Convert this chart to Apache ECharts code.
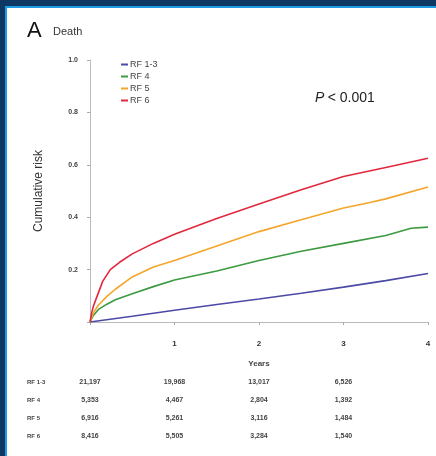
<!DOCTYPE html>
<html>
<head>
<meta charset="utf-8">
<script src="https://cdn.jsdelivr.net/npm/echarts@6/dist/echarts.min.js"></script>
<style>
  html, body { margin: 0; padding: 0; background: #fff; }
  #chart { width: 436px; height: 456px; }
</style>
</head>
<body>
<div id="chart"></div>
<script>
// cumulative risk curves, [years, risk]
var rf13 = [[0,0],[0.5,0.022],[1,0.045],[1.5,0.067],[2,0.088],[2.5,0.11],[3,0.133],[3.5,0.158],[4,0.185]];
var rf4 = [[0,0],[0.04,0.025],[0.1,0.048],[0.2,0.068],[0.3,0.085],[0.5,0.108],[0.75,0.135],[1,0.16],[1.5,0.195],[2,0.235],[2.5,0.27],[3,0.3],[3.5,0.33],[3.8,0.358],[4,0.362]];
var rf5 = [[0,0],[0.04,0.035],[0.1,0.065],[0.2,0.098],[0.3,0.125],[0.5,0.172],[0.75,0.21],[1,0.235],[1.5,0.29],[2,0.345],[2.5,0.39],[3,0.435],[3.3,0.455],[3.5,0.47],[4,0.515]];
var rf6 = [[0,0],[0.02,0.035],[0.04,0.06],[0.08,0.095],[0.15,0.155],[0.24,0.2],[0.35,0.228],[0.5,0.26],[0.75,0.3],[1,0.335],[1.5,0.395],[2,0.45],[2.5,0.505],[3,0.555],[3.5,0.59],[4,0.625]];

var seriesNames = ['RF 1-3', 'RF 4', 'RF 5', 'RF 6'];
var colors = ['#4b4aa6', '#3c9a40', '#f5a52a', '#e2283d'];

// number at risk table
var riskYears = [0, 1, 2, 3];
var atRisk = [
  ['21,197', '19,968', '13,017', '6,526'],
  ['5,353', '4,467', '2,804', '1,392'],
  ['6,916', '5,261', '3,116', '1,484'],
  ['8,416', '5,505', '3,284', '1,540']
];

var font = 'Liberation Sans, Arial, sans-serif';
var chart = echarts.init(document.getElementById('chart'));

var option = {
  animation: false,
  textStyle: { fontFamily: font },
  grid: { left: 90, right: 8, top: 60, bottom: 134 },
  legend: {
    orient: 'vertical',
    left: 116,
    top: 55,
    itemWidth: 7,
    itemHeight: 2,
    itemGap: 3,
    icon: 'rect',
    textStyle: { fontSize: 9, color: '#444', padding: [0, 0, 0, -3] },
    data: seriesNames
  },
  xAxis: {
    type: 'value',
    min: 0, max: 4, interval: 1,
    name: 'Years',
    nameLocation: 'middle',
    nameGap: 38,
    nameTextStyle: { fontSize: 8, fontWeight: 'bold', color: '#444' },
    axisLine: { lineStyle: { color: '#bbb', width: 1 } },
    axisTick: { length: 3, lineStyle: { color: '#aaa' } },
    splitLine: { show: false },
    axisLabel: {
      margin: 18, fontSize: 8, fontWeight: 'bold', color: '#333',
      formatter: function (v) { return v === 0 ? '' : v; }
    }
  },
  yAxis: {
    type: 'value',
    min: 0, max: 1, interval: 0.2,
    name: 'Cumulative risk',
    nameLocation: 'middle',
    nameGap: 45,
    nameTextStyle: { fontSize: 12, color: '#333' },
    axisLine: { show: true, lineStyle: { color: '#bbb', width: 1 } },
    axisTick: { show: true, length: 3, lineStyle: { color: '#aaa' } },
    splitLine: { show: false },
    axisLabel: {
      margin: 12, fontSize: 7, fontWeight: 'bold', color: '#444',
      formatter: function (v) { return v === 0 ? '' : v.toFixed(1); }
    }
  },
  series: [rf13, rf4, rf5, rf6].map(function (d, i) {
    return {
      name: seriesNames[i],
      type: 'line',
      data: d,
      showSymbol: false,
      smooth: false,
      color: colors[i],
      lineStyle: { width: 1.6 }
    };
  })
};
chart.setOption(option);

var g = [
  // frame of the slide
  { type: 'rect', shape: { x: 0, y: 0, width: 436, height: 6 }, style: { fill: '#0e3763' }, z: 10 },
  { type: 'rect', shape: { x: 0, y: 6, width: 436, height: 2 }, style: { fill: '#1f9be6' }, z: 10 },
  { type: 'rect', shape: { x: 0, y: 0, width: 5, height: 456 }, style: { fill: '#0e3763' }, z: 10 },
  { type: 'rect', shape: { x: 5, y: 6, width: 2, height: 450 }, style: { fill: '#1f9be6' }, z: 10 },
  { type: 'text', left: 27, top: 20, style: { text: 'A', font: '22px ' + font, fill: '#111' } },
  { type: 'text', left: 53, top: 26, style: { text: 'Death', font: '11px ' + font, fill: '#333' } },
  { type: 'text', left: 315, top: 91, style: { rich: { p: { fontStyle: 'italic', fontSize: 14, fontFamily: font, fill: '#222' }, t: { fontSize: 14, fontFamily: font, fill: '#222' } }, text: '{p|P} {t|< 0.001}' } }
];
var rowY = [382, 400, 418, 436];
seriesNames.forEach(function (n, r) {
  g.push({ type: 'text', x: 27, y: rowY[r], style: { text: n, font: 'bold 6px ' + font, fill: '#444', verticalAlign: 'middle' } });
  riskYears.forEach(function (yr, c) {
    var px = chart.convertToPixel({ xAxisIndex: 0 }, yr);
    g.push({ type: 'text', x: px, y: rowY[r], style: { text: atRisk[r][c], font: 'bold 7px ' + font, fill: '#444', align: 'center', verticalAlign: 'middle' } });
  });
});
chart.setOption({ graphic: g });
</script>
</body>
</html>
